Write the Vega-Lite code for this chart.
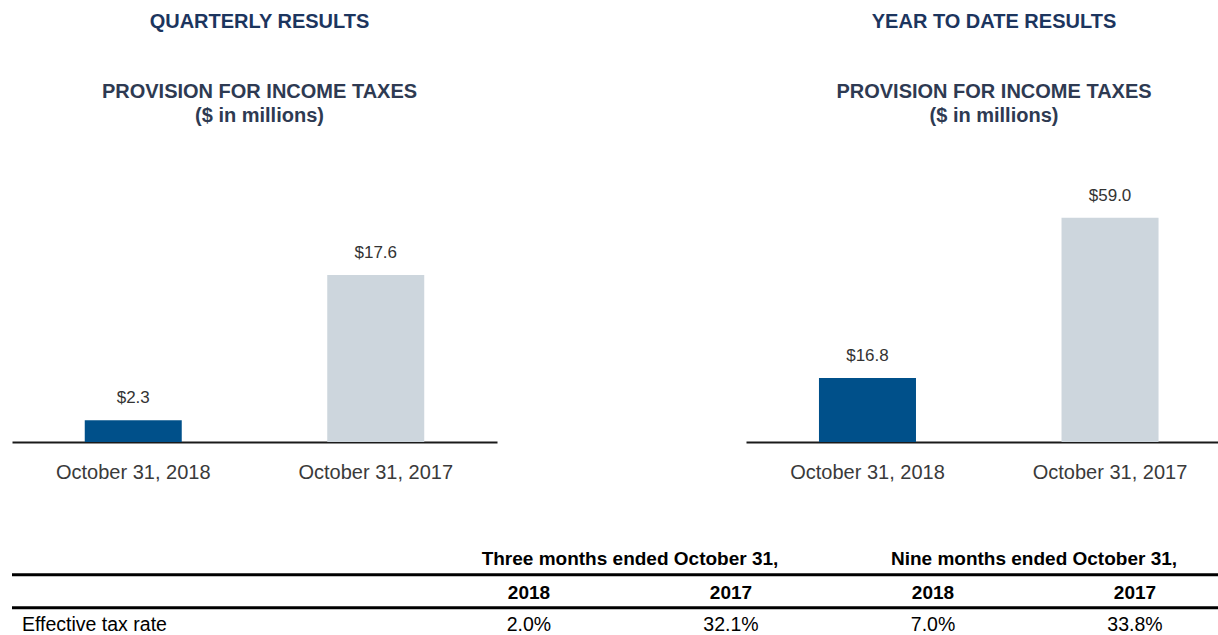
{
  "$schema": "https://vega.github.io/schema/vega-lite/v6.json",
  "background": "white",
  "padding": {"left": 10, "top": 12, "right": 0, "bottom": 0},
  "config": {
    "view": {"stroke": null},
    "font": "Liberation Sans",
    "title": {"font": "Liberation Sans", "fontSize": 20, "fontWeight": "bold", "color": "#1c355e", "subtitleFont": "Liberation Sans", "subtitleFontSize": 20, "subtitleFontWeight": "bold", "subtitleColor": "#2e3a52", "subtitleLineHeight": 24, "subtitlePadding": 50, "offset": 16, "anchor": "middle", "frame": "group"},
    "axis": {"domainColor": "#1a1a1a", "domainWidth": 2, "ticks": false, "tickSize": 0, "labelFontSize": 20, "labelFont": "Liberation Sans", "labelColor": "#3a3a3a", "labelPadding": 20.5, "labelAngle": 0, "grid": false, "title": null, "zindex": 1}
  },
  "datasets": {
    "quarter": [
      {"period": "October 31, 2018", "year": "2018", "value": 2.3},
      {"period": "October 31, 2017", "year": "2017", "value": 17.6}
    ],
    "ytd": [
      {"period": "October 31, 2018", "year": "2018", "value": 16.8},
      {"period": "October 31, 2017", "year": "2017", "value": 59.0}
    ],
    "rules": [{"row": "ln1"}, {"row": "ln2"}],
    "headers": [
      {"row": "hdr", "col": "q18", "text": "Three months ended October 31,"},
      {"row": "hdr", "col": "y18", "text": "Nine months ended October 31,"}
    ],
    "years": [
      {"row": "yr", "col": "q18", "text": "2018"},
      {"row": "yr", "col": "q17", "text": "2017"},
      {"row": "yr", "col": "y18", "text": "2018"},
      {"row": "yr", "col": "y17", "text": "2017"}
    ],
    "rates": [
      {"row": "val", "col": "q18", "text": "2.0%"},
      {"row": "val", "col": "q17", "text": "32.1%"},
      {"row": "val", "col": "y18", "text": "7.0%"},
      {"row": "val", "col": "y17", "text": "33.8%"}
    ],
    "labels": [{"row": "val", "item": "label", "text": "Effective tax rate"}]
  },
  "spacing": 67,
  "vconcat": [
    {
      "spacing": 249,
      "hconcat": [
        {
          "width": 485,
          "height": 300,
          "title": {"text": "QUARTERLY RESULTS", "subtitle": ["PROVISION FOR INCOME TAXES", "($ in millions)"], "dx": 5},
          "data": {"name": "quarter"},
          "encoding": {
            "x": {"field": "period", "type": "nominal", "sort": null, "scale": {"paddingInner": 0.6, "paddingOuter": 0.3}},
            "y": {"field": "value", "type": "quantitative", "scale": {"domain": [0, 31.6]}, "axis": null}
          },
          "layer": [
            {"mark": {"type": "bar"}, "encoding": {"color": {"field": "year", "type": "nominal", "scale": {"domain": ["2018", "2017"], "range": ["#00508a", "#cdd6dd"]}, "legend": null}}},
            {"mark": {"type": "text", "baseline": "alphabetic", "dy": -17, "fontSize": 17, "color": "#333333", "font": "Liberation Sans"}, "encoding": {"text": {"field": "value", "type": "quantitative", "format": "$.1f"}}}
          ]
        },
        {
          "width": 472,
          "height": 300,
          "title": {"text": "YEAR TO DATE RESULTS", "subtitle": ["PROVISION FOR INCOME TAXES", "($ in millions)"], "dx": 12},
          "data": {"name": "ytd"},
          "encoding": {
            "x": {"field": "period", "type": "nominal", "sort": null, "scale": {"paddingInner": 0.6, "paddingOuter": 0.273, "align": 0.551}},
            "y": {"field": "value", "type": "quantitative", "scale": {"domain": [0, 78.9]}, "axis": null}
          },
          "layer": [
            {"mark": {"type": "bar"}, "encoding": {"color": {"field": "year", "type": "nominal", "scale": {"domain": ["2018", "2017"], "range": ["#00508a", "#cdd6dd"]}, "legend": null}}},
            {"mark": {"type": "text", "baseline": "alphabetic", "dy": -17, "fontSize": 17, "color": "#333333", "font": "Liberation Sans"}, "encoding": {"text": {"field": "value", "type": "quantitative", "format": "$.1f"}}}
          ]
        }
      ]
    },
    {
      "width": 1206,
      "height": 82.5,
      "resolve": {"scale": {"x": "independent"}},
      "layer": [
        {
          "data": {"name": "rules"},
          "mark": {"type": "rule", "strokeWidth": 3, "color": "#000000"},
          "encoding": {
            "y": {"field": "row", "type": "nominal", "bandPosition": 0.5, "scale": {"type": "band", "domain": ["hdr", "ln1", "yr", "ln2", "val"], "paddingInner": 0, "paddingOuter": 0}, "axis": null}
          }
        },
        {
          "data": {"name": "headers"},
          "mark": {"type": "text", "fontSize": 19, "fontWeight": "bold", "color": "#000000", "baseline": "alphabetic", "align": "center", "font": "Liberation Sans"},
          "encoding": {
            "x": {"field": "col", "type": "nominal", "bandPosition": 1.5, "scale": {"type": "band", "domain": ["pre", "q18", "q17", "y18", "y17"], "paddingInner": 0.5, "paddingOuter": 0.735, "align": 0.8906}, "axis": null},
            "y": {"field": "row", "type": "nominal", "bandPosition": 0.93, "scale": {"type": "band", "domain": ["hdr", "ln1", "yr", "ln2", "val"], "paddingInner": 0, "paddingOuter": 0}, "axis": null},
            "text": {"field": "text", "type": "nominal"}
          }
        },
        {
          "data": {"name": "years"},
          "mark": {"type": "text", "fontSize": 19, "fontWeight": "bold", "color": "#000000", "baseline": "alphabetic", "align": "center", "font": "Liberation Sans"},
          "encoding": {
            "x": {"field": "col", "type": "nominal", "bandPosition": 0.5, "scale": {"type": "band", "domain": ["pre", "q18", "q17", "y18", "y17"], "paddingInner": 0.5, "paddingOuter": 0.735, "align": 0.8906}, "axis": null},
            "y": {"field": "row", "type": "nominal", "bandPosition": 0.95, "scale": {"type": "band", "domain": ["hdr", "ln1", "yr", "ln2", "val"], "paddingInner": 0, "paddingOuter": 0}, "axis": null},
            "text": {"field": "text", "type": "nominal"}
          }
        },
        {
          "data": {"name": "rates"},
          "mark": {"type": "text", "fontSize": 19.5, "color": "#000000", "baseline": "alphabetic", "align": "center", "font": "Liberation Sans"},
          "encoding": {
            "x": {"field": "col", "type": "nominal", "bandPosition": 0.5, "scale": {"type": "band", "domain": ["pre", "q18", "q17", "y18", "y17"], "paddingInner": 0.5, "paddingOuter": 0.735, "align": 0.8906}, "axis": null},
            "y": {"field": "row", "type": "nominal", "bandPosition": 0.88, "scale": {"type": "band", "domain": ["hdr", "ln1", "yr", "ln2", "val"], "paddingInner": 0, "paddingOuter": 0}, "axis": null},
            "text": {"field": "text", "type": "nominal"}
          }
        },
        {
          "data": {"name": "labels"},
          "mark": {"type": "text", "fontSize": 19.5, "color": "#000000", "baseline": "alphabetic", "align": "left", "font": "Liberation Sans"},
          "encoding": {
            "x": {"field": "item", "type": "nominal", "bandPosition": 0, "scale": {"type": "band", "domain": ["label"], "paddingInner": 0, "paddingOuter": 0.5, "align": 0.0166}, "axis": null},
            "y": {"field": "row", "type": "nominal", "bandPosition": 0.88, "scale": {"type": "band", "domain": ["hdr", "ln1", "yr", "ln2", "val"], "paddingInner": 0, "paddingOuter": 0}, "axis": null},
            "text": {"field": "text", "type": "nominal"}
          }
        }
      ]
    }
  ]
}
